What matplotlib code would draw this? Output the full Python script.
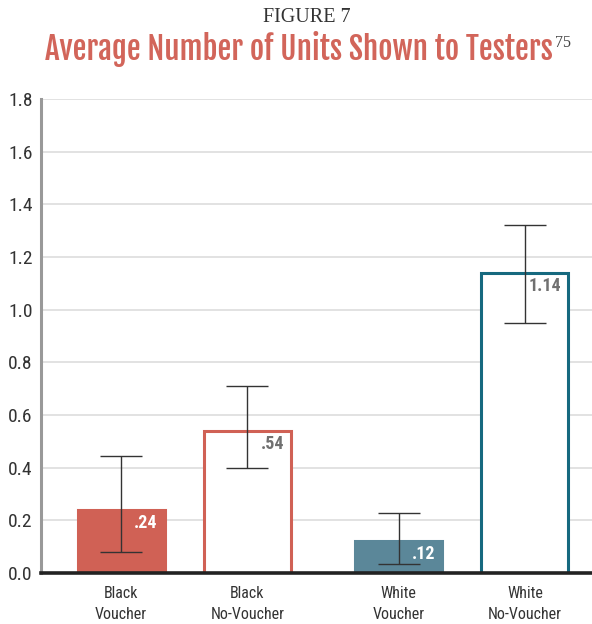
import matplotlib
matplotlib.use("Agg")
import matplotlib.pyplot as plt

# ---- data --------------------------------------------------------------------
categories = ["Black\nVoucher", "Black\nNo-Voucher", "White\nVoucher", "White\nNo-Voucher"]
values = [0.24, 0.54, 0.12, 1.14]
value_labels = [".24", ".54", ".12", "1.14"]
err_low = [0.08, 0.40, 0.033, 0.948]
err_high = [0.446, 0.71, 0.227, 1.32]
y_ticks = [0.0, 0.2, 0.4, 0.6, 0.8, 1.0, 1.2, 1.4, 1.6, 1.8]

# ---- style -------------------------------------------------------------------
RED = "#D06155"
BLUE = "#5B8799"
TEAL = "#16697F"
TITLE_RED = "#D2655A"
TXT = "#333333"

BODY = ["Roboto Condensed", "Liberation Sans", "DejaVu Sans"]
HEAD = ["Fjalla One", "Roboto Condensed", "Liberation Sans", "DejaVu Sans"]
SERIF = ["Liberation Serif", "DejaVu Serif"]
plt.rcParams["font.family"] = BODY

positions = [0, 1, 2.2, 3.2]
face = [RED, "white", BLUE, "white"]
edge = [RED, RED, BLUE, TEAL]
label_color = ["white", "#707070", "white", "#707070"]

fig = plt.figure(figsize=(5.92, 6.24), dpi=100)
ax = fig.add_axes([0.0693, 0.0817, 0.9307, 0.7596])

for yt in y_ticks[1:]:
    ax.axhline(yt, color="#dddddd", linewidth=1.2, zorder=0)

ax.bar(positions, values, width=0.69, color=face, edgecolor=edge,
       linewidth=2.2, zorder=2)

for x, v, lo, hi in zip(positions, values, err_low, err_high):
    ax.errorbar(x, v, yerr=[[v - lo], [hi - v]], fmt="none", ecolor="#333333",
                elinewidth=1.0, capsize=15, capthick=1.0, zorder=3)

for x, v, lab, c in zip(positions, values, value_labels, label_color):
    ax.text(x + 0.29, v - 0.015, lab, ha="right", va="top", color=c,
            fontsize=13, fontweight="bold", zorder=4)

ax.set_xlim(-0.635, 3.732)
ax.set_ylim(0, 1.8)
ax.set_yticks(y_ticks)
ax.set_yticklabels([f"{t:.1f}" for t in y_ticks], fontsize=14, color=TXT)
ax.set_xticks(positions)
ax.set_xticklabels(categories, fontsize=11.5, color=TXT, linespacing=1.5)
ax.tick_params(axis="both", length=0)
ax.tick_params(axis="y", pad=6)
ax.tick_params(axis="x", pad=9)

for s in ["top", "right"]:
    ax.spines[s].set_visible(False)
ax.spines["left"].set_color("#999999")
ax.spines["left"].set_linewidth(2.2)
ax.spines["bottom"].set_color("#222222")
ax.spines["bottom"].set_linewidth(2.6)
ax.spines["bottom"].set_zorder(5)

# ---- titles ------------------------------------------------------------------
fig.text(0.518, 0.964, "FIGURE 7", ha="center", va="baseline",
         family=SERIF, fontsize=14.5, color=TXT)
title = fig.text(45 / 592, 0.9038, "Average Number of Units Shown to Testers",
                 ha="left", va="baseline", family=HEAD, fontsize=26,
                 fontweight="bold", color=TITLE_RED)
# fit the title to the width it takes in the reference (45..552 px)
r = fig.canvas.get_renderer()
w = title.get_window_extent(r).width
title.set_fontsize(26 * 507 / w)
fig.text(555 / 592, 0.925, "75", ha="left", va="baseline",
         family=SERIF, fontsize=11.5, color="#444444")

fig.savefig("out.png", dpi=100)
